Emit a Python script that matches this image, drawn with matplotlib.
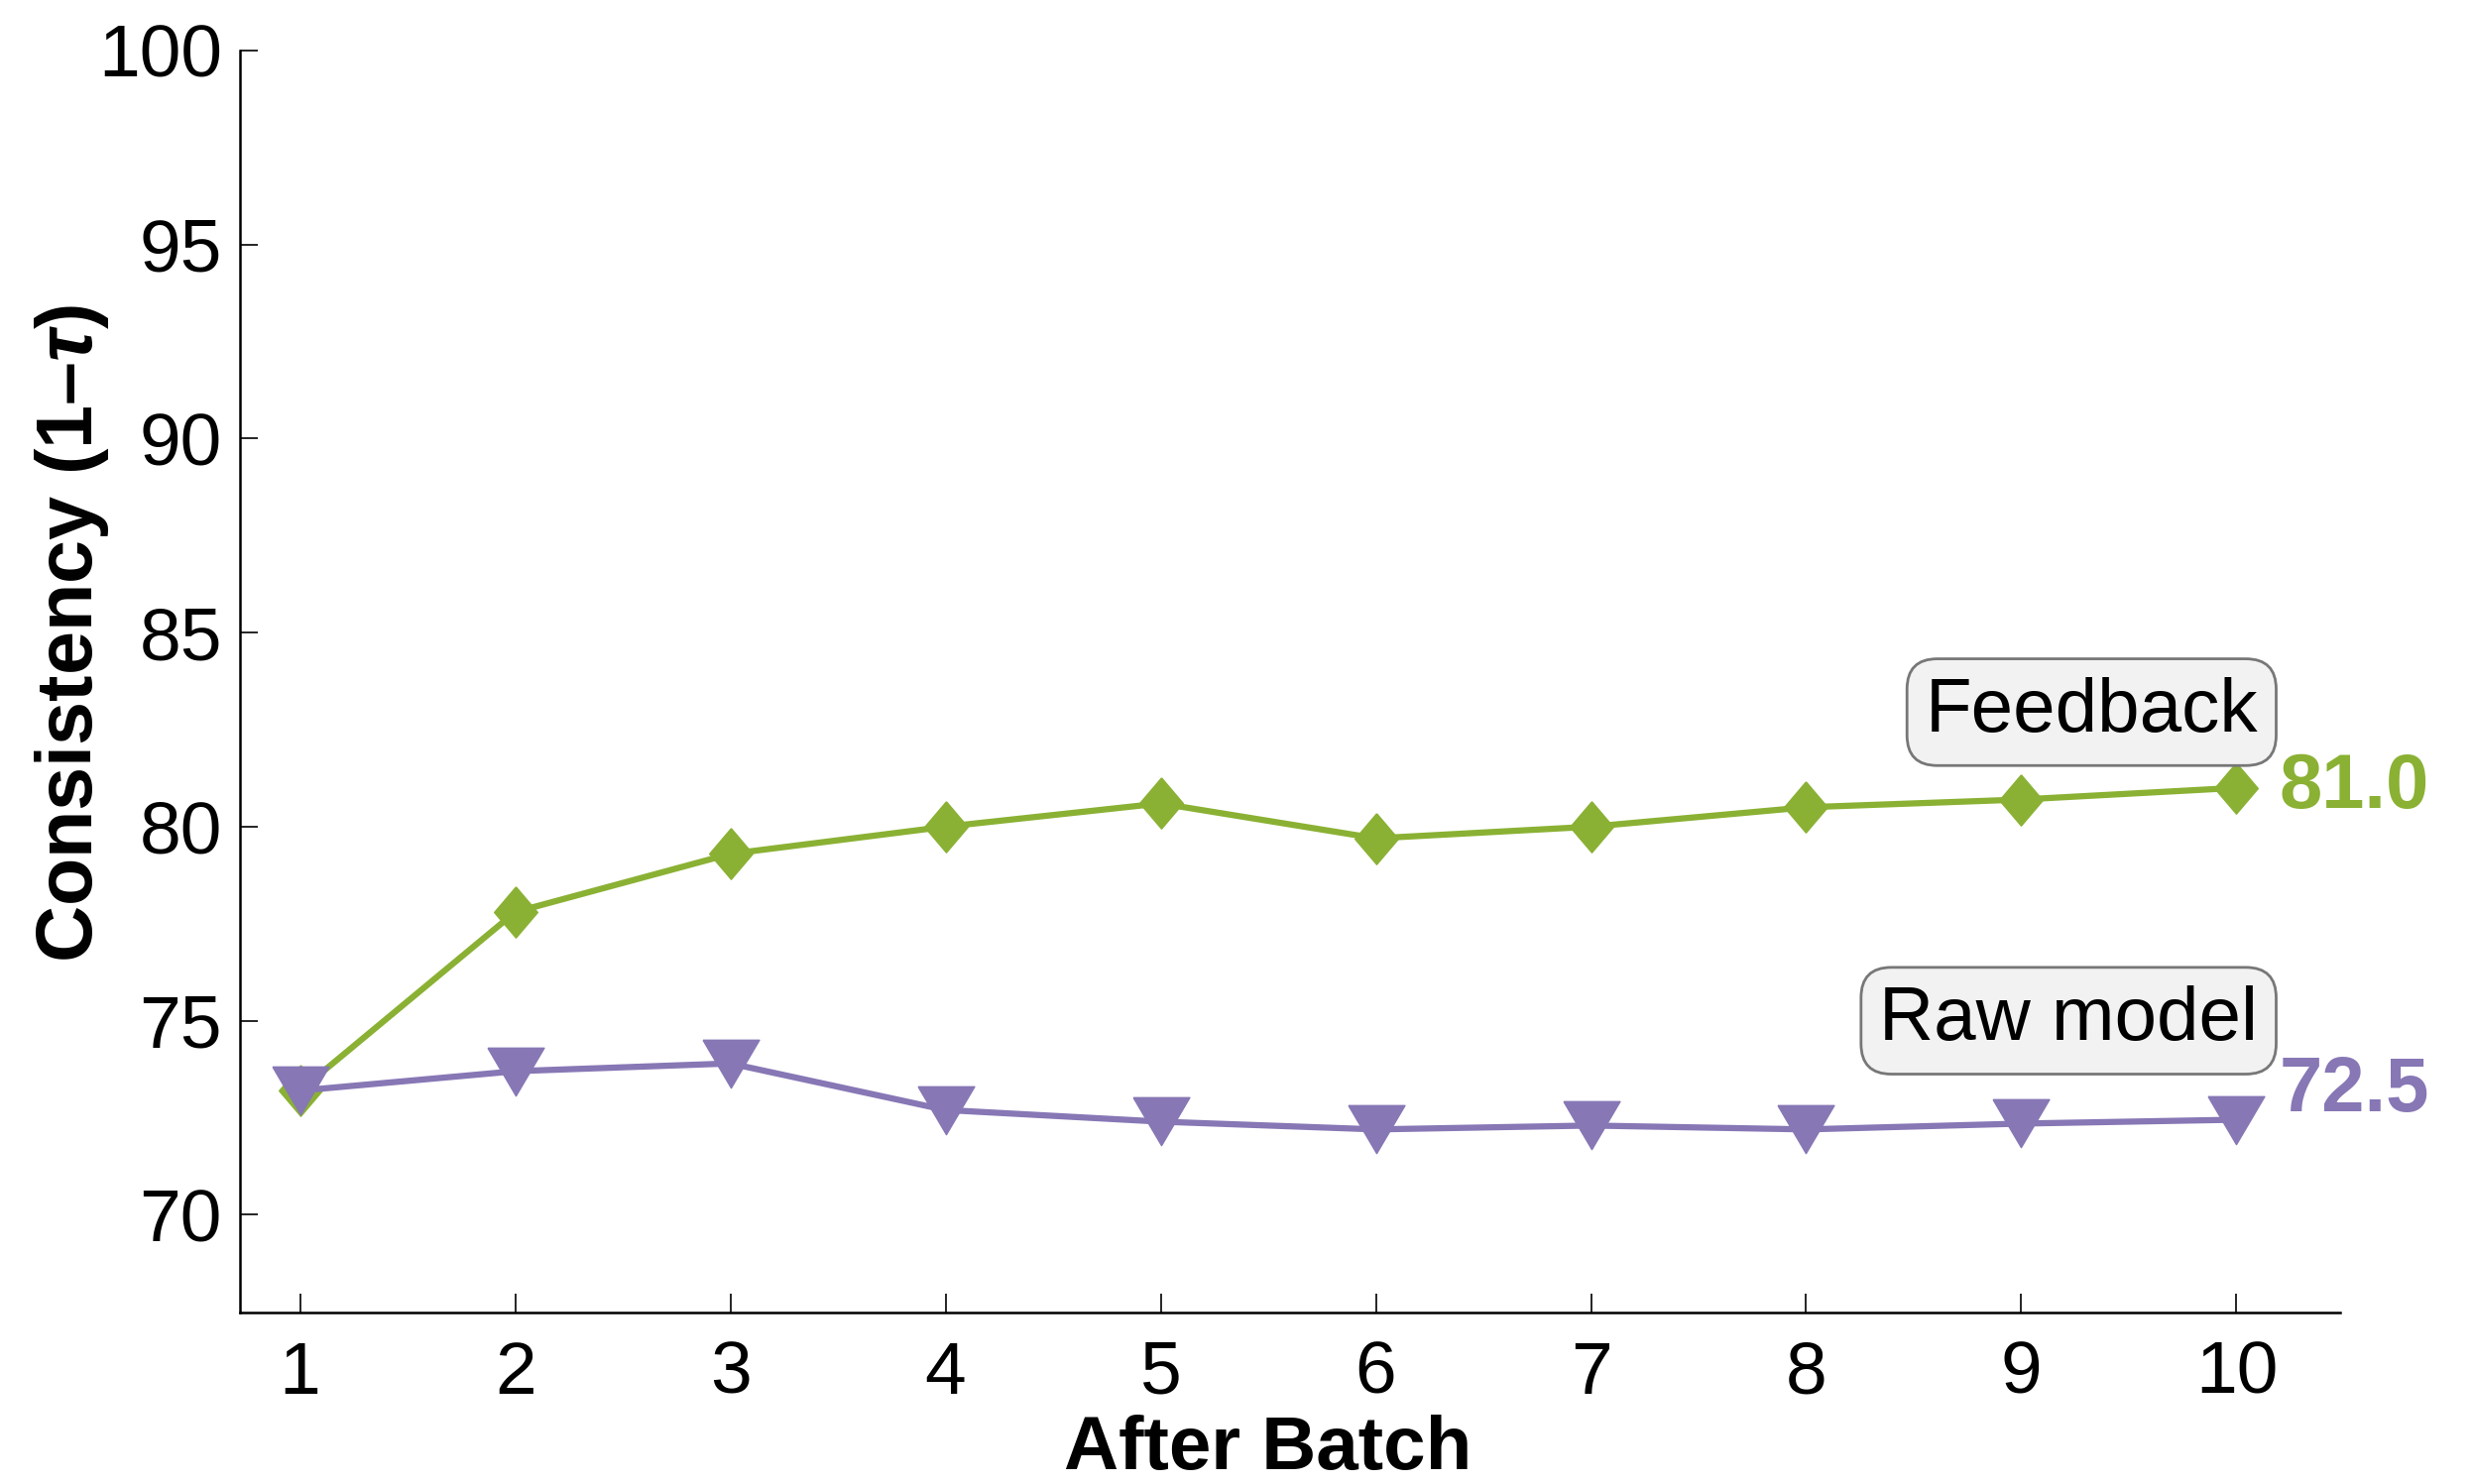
import matplotlib
matplotlib.use("Agg")
import matplotlib.pyplot as plt

batches = [1, 2, 3, 4, 5, 6, 7, 8, 9, 10]
feedback = [73.2, 77.8, 79.3, 80.0, 80.6, 79.7, 80.0, 80.5, 80.7, 81.0]
raw_model = [73.2, 73.7, 73.9, 72.7, 72.4, 72.2, 72.3, 72.2, 72.35, 72.45]
yticks = [70, 75, 80, 85, 90, 95, 100]

green = "#8ab133"
purple = "#8777b5"

plt.rcParams['font.family'] = ['Liberation Sans', 'DejaVu Sans']
plt.rcParams['mathtext.fontset'] = 'custom'
plt.rcParams['mathtext.rm'] = 'Liberation Sans:bold'
plt.rcParams['mathtext.it'] = 'Liberation Sans:italic:bold'

# marker shapes (slightly flattened triangle, near-square diamond)
tri = [(-1, 0.85), (1, 0.85), (0, -0.85), (-1, 0.85)]
dia = [(0, 1), (0.85, 0), (0, -1), (-0.85, 0), (0, 1)]

fig = plt.figure(figsize=(24.93, 14.97), dpi=100)
ax = fig.add_axes([0.097, 0.1155, 0.8495, 0.8505])

ax.plot(batches, feedback, color=green, lw=4.5, marker=dia, ms=37, zorder=3)
ax.plot(batches, raw_model, color=purple, lw=4.5, marker=tri, ms=41, zorder=3)

ax.set_xlim(0.72, 10.48)
ax.set_ylim(67.48, 100)
ax.set_xticks(batches)
ax.set_yticks(yticks)
ax.tick_params(direction='in', labelsize=54, width=1.2, color='black')
ax.tick_params(axis='y', length=13, pad=13)
ax.tick_params(axis='x', length=14, pad=20)

for s in ['top', 'right']:
    ax.spines[s].set_visible(False)
for s in ['left', 'bottom']:
    ax.spines[s].set_linewidth(1.8)

ax.set_xlabel('After Batch', fontsize=55, fontweight='bold', va='baseline')
ax.xaxis.set_label_coords(0.4895, -0.124)
ax.set_ylabel('Consistency (1–$\\tau$)', fontsize=57, fontweight='bold', va='center')
ax.yaxis.set_label_coords(-0.080, 0.538)

box = dict(boxstyle='round,pad=0.24,rounding_size=0.4', fc='#f2f2f2', ec='#777777', lw=2)
ax.text(10.1, 82.95, 'Feedback', fontsize=55, ha='right', va='center', bbox=box)
ax.text(10.1, 75.0, 'Raw model', fontsize=55, ha='right', va='center', bbox=box)

ax.text(10.2, feedback[-1], '81.0', fontsize=56, fontweight='bold', color=green,
        ha='left', va='center', clip_on=False)
ax.text(10.2, 73.2, '72.5', fontsize=56, fontweight='bold', color=purple,
        ha='left', va='center', clip_on=False)

fig.savefig('out.png', dpi=100)
